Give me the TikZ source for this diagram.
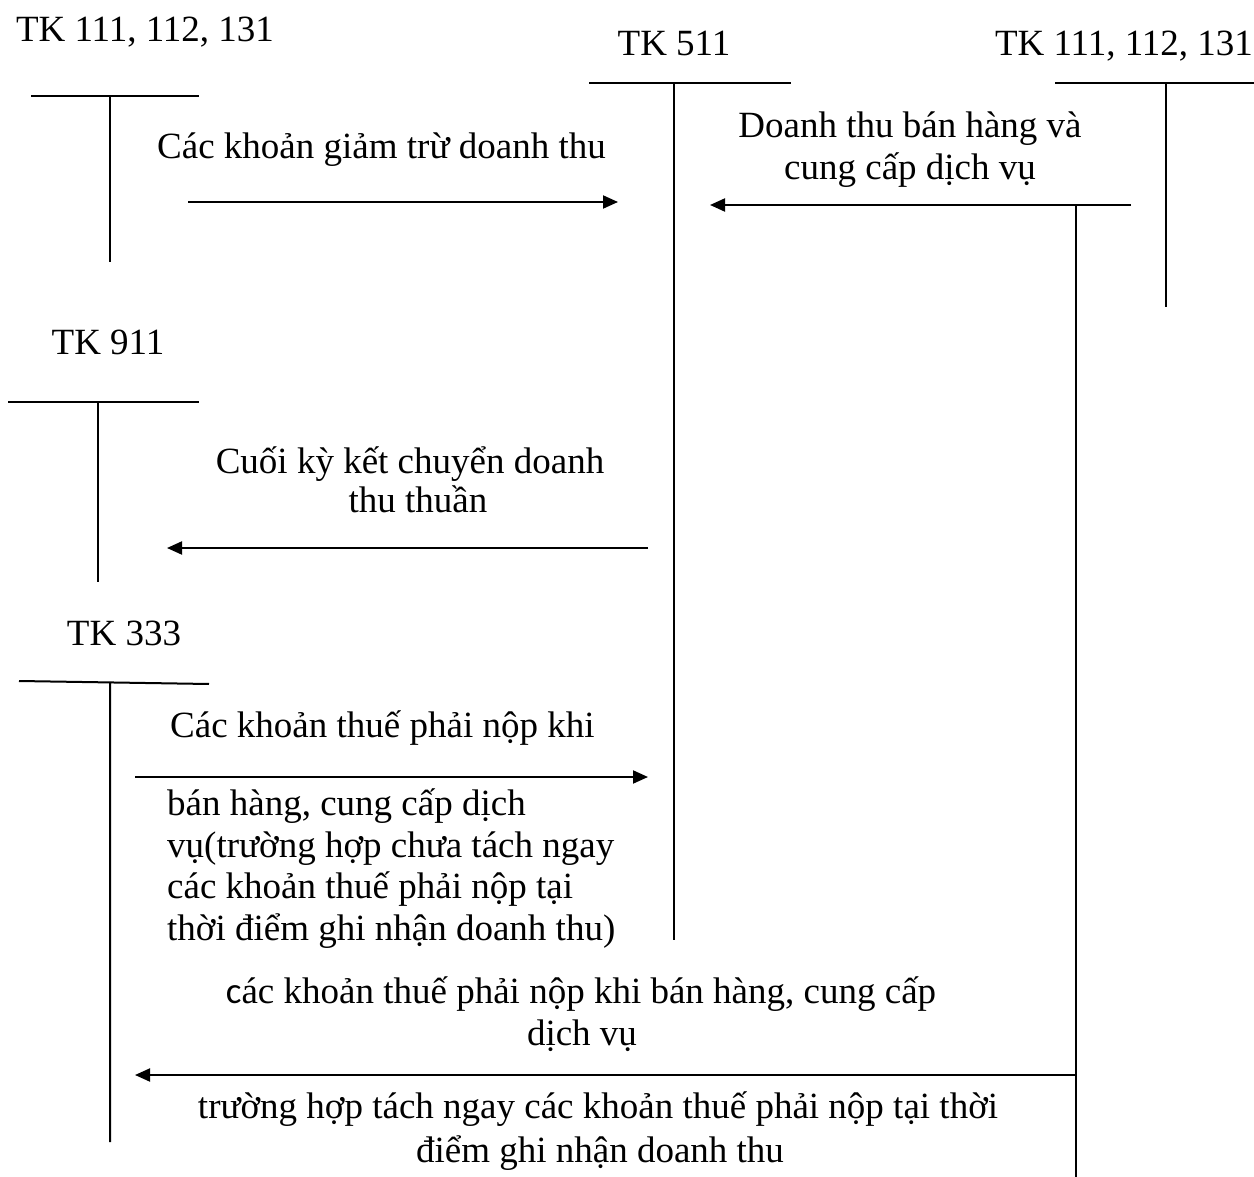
\documentclass[tikz,border=0pt]{standalone}
\usepackage{fontspec}
\setmainfont{Liberation Serif}
\newfontfamily\calibrilike{Carlito}
\usetikzlibrary{arrows.meta}
\begin{document}
\begin{tikzpicture}[x=1pt,y=-1pt,
  acct/.style={line width=2pt},
  flow/.style={line width=2pt,-{Triangle[length=15pt,width=13pt]}},
  every node/.style={inner sep=0pt,font=\fontsize{37}{43}\selectfont},
  lc/.style={anchor=base},
  ll/.style={anchor=base west}]
\useasboundingbox (0,0) rectangle (1254,1177);

% account headings
\node[lc] (h1)   at (145,42)  {TK 111, 112, 131};
\node[lc] (h511) at (674,56)  {TK 511};
\node[lc] (h2)   at (1124,56) {TK 111, 112, 131};
\node[lc] (h911) at (108,355) {TK 911};
\node[lc] (h333) at (124,645) {TK 333};

% T-account rules
\draw[acct] (31,96) -- (199,96) (110,96) -- (110,262);
\draw[acct] (589,83) -- (791,83) (674,83) -- (674,940);
\draw[acct] (1055,83) -- (1254,83) (1166,83) -- (1166,307);
\draw[acct] (8,402) -- (199,402) (98,402) -- (98,582);
\draw[acct] (19,681) -- (209,684) (110,682) -- (110,1142);

% connector end points
\coordinate (a1s) at (188,202);  \coordinate (a1e) at (618,202);
\coordinate (a2s) at (1131,205); \coordinate (a2e) at (710,205);
\coordinate (a3s) at (648,548);  \coordinate (a3e) at (167,548);
\coordinate (a4s) at (135,777);  \coordinate (a4e) at (648,777);
\coordinate (b0)  at (1076,205); \coordinate (b1)  at (1076,1177);
\coordinate (a5s) at (1076,1075);\coordinate (a5e) at (135,1075);

% connectors
\draw[flow] (a1s) -- (a1e);
\draw[flow] (a2s) -- (a2e);
\draw[acct] (b0) -- (b1);
\draw[flow] (a3s) -- (a3e);
\draw[flow] (a4s) -- (a4e);
\draw[flow] (a5s) -- (a5e);

% entry descriptions
\node[ll] (n1)  at (157,159)  {Các khoản giảm trừ doanh thu};
\node[lc] (n2a) at (910,138)  {Doanh thu bán hàng và};
\node[lc] (n2b) at (910,180)  {cung cấp dịch vụ};
\node[lc] (n3a) at (410,473)  {Cuối kỳ kết chuyển doanh};
\node[lc] (n3b) at (418,512)  {thu thuần};
\node[ll] (n4)  at (170,737)  {Các khoản thuế phải nộp khi};
\node[ll] (n5a) at (167,815)  {bán hàng, cung cấp dịch};
\node[ll] (n5b) at (167,857)  {vụ(trường hợp chưa tách ngay};
\node[ll] (n5c) at (167,898)  {các khoản thuế phải nộp tại};
\node[ll] (n5d) at (167,940)  {thời điểm ghi nhận doanh thu)};
\node[lc] (n6a) at (581,1003) {{\calibrilike c}ác khoản thuế phải nộp khi bán hàng, cung cấp};
\node[lc] (n6b) at (582,1045) {dịch vụ};
\node[lc] (n7a) at (598,1118) {trường hợp tách ngay các khoản thuế phải nộp tại thời};
\node[lc] (n7b) at (600,1162) {điểm ghi nhận doanh thu};
\end{tikzpicture}
\end{document}
